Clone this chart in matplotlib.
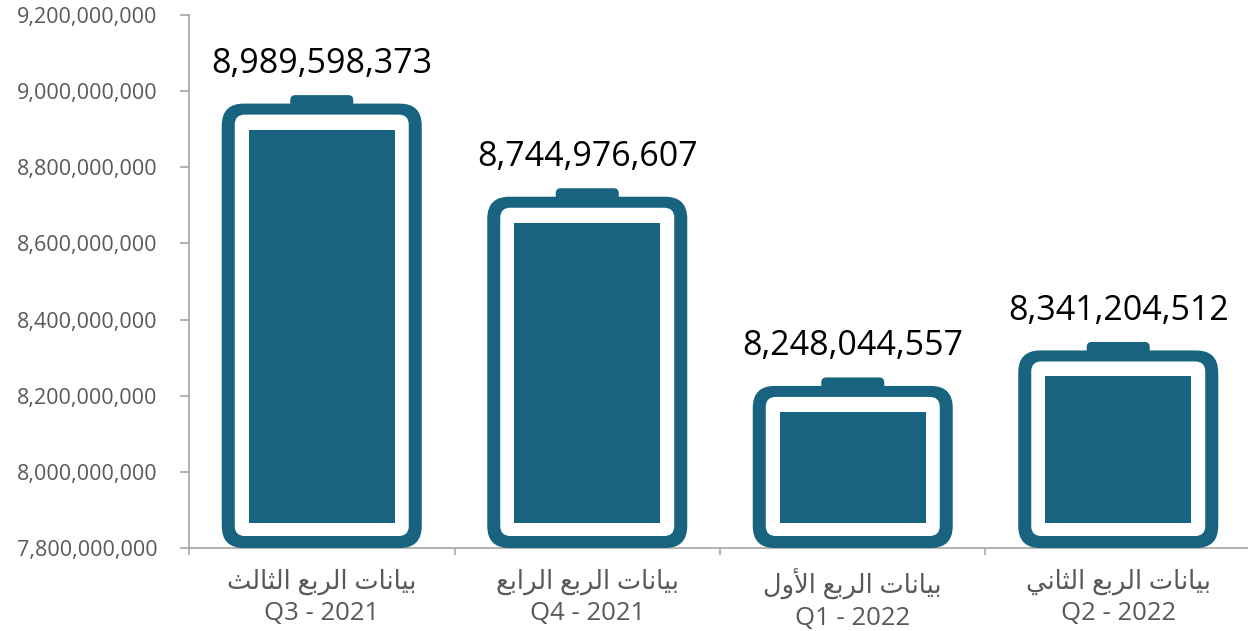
import matplotlib.pyplot as plt
from matplotlib.patches import FancyBboxPatch, Rectangle

# ------------------------------------------
# Datos
# ------------------------------------------
quarters_ar = ['بيانات الربع الثالث', 'بيانات الربع الرابع',
               'بيانات الربع الأول', 'بيانات الربع الثاني']
quarters_en = ['Q3 - 2021', 'Q4 - 2021', 'Q1 - 2022', 'Q2 - 2022']
values = [8989598373, 8744976607, 8248044557, 8341204512]
y_ticks = [7800000000, 8000000000, 8200000000, 8400000000,
           8600000000, 8800000000, 9000000000, 9200000000]

TEAL = '#176380'
GRID_GREY = '#A6A6A6'
TEXT_GREY = '#595959'
FONTS = ['Open Sans', 'DejaVu Sans']

# Arabic shaping by hand (presentation forms, visual order)
FORMS = {
    'ا': ('\uFE8D', '\uFE8E', None, None),
    'أ': ('\uFE83', '\uFE84', None, None),
    'ب': ('\uFE8F', '\uFE90', '\uFE91', '\uFE92'),
    'ت': ('\uFE95', '\uFE96', '\uFE97', '\uFE98'),
    'ث': ('\uFE99', '\uFE9A', '\uFE9B', '\uFE9C'),
    'ر': ('\uFEAD', '\uFEAE', None, None),
    'ع': ('\uFEC9', '\uFECA', '\uFECB', '\uFECC'),
    'ل': ('\uFEDD', '\uFEDE', '\uFEDF', '\uFEE0'),
    'ن': ('\uFEE5', '\uFEE6', '\uFEE7', '\uFEE8'),
    'و': ('\uFEED', '\uFEEE', None, None),
    'ي': ('\uFEF1', '\uFEF2', '\uFEF3', '\uFEF4'),
    'لا': ('\uFEFB', '\uFEFC', None, None),
    'لأ': ('\uFEF7', '\uFEF8', None, None),
}


def shape_word(word):
    tokens = []
    k = 0
    while k < len(word):
        if word[k] == 'ل' and k + 1 < len(word) and word[k + 1] in 'اأ':
            tokens.append(word[k:k + 2])
            k += 2
        else:
            tokens.append(word[k])
            k += 1
    out = ''
    for k, t in enumerate(tokens):
        iso, fin, ini, med = FORMS[t]
        prev = k > 0 and FORMS[tokens[k - 1]][2] is not None
        nxt = k < len(tokens) - 1 and ini is not None
        if prev and nxt:
            out += med
        elif prev:
            out += fin
        elif nxt:
            out += ini
        else:
            out += iso
    return out


def shape_ar(text):
    return ' '.join(shape_word(w) for w in text.split(' '))[::-1]


# ------------------------------------------
# Figura
# ------------------------------------------
fig = plt.figure(figsize=(12.48, 6.31), dpi=100)
ax = fig.add_axes([189 / 1248, 83 / 631, 1062 / 1248, 533 / 631])
ax.set_xlim(-0.5, len(values) - 0.5)
ax.set_ylim(y_ticks[0], y_ticks[-1])

bbox = ax.get_window_extent()
xpp = (len(values)) / bbox.width
ypp = (y_ticks[-1] - y_ticks[0]) / bbox.height
aspect = ypp / xpp


def rbox(x0, y0, w, h, r, color, z):
    p = FancyBboxPatch((x0, y0), w, h,
                       boxstyle=f'round,pad=0,rounding_size={r * xpp}',
                       mutation_aspect=aspect, facecolor=color,
                       edgecolor='none', linewidth=0, zorder=z)
    ax.add_patch(p)


base = y_ticks[0]
for i, v in enumerate(values):
    body_top = v - 8.5 * ypp
    # cap
    rbox(i - 31.5 * xpp, body_top - 6 * ypp, 63 * xpp, 6 * ypp + 8.5 * ypp,
         5, TEAL, 2)
    # outer body
    rbox(i - 100 * xpp, base, 200 * xpp, body_top - base, 22, TEAL, 3)
    # white gap
    rbox(i - 87 * xpp, base + 12 * ypp, 174 * xpp,
         body_top - base - 23 * ypp, 10, 'white', 4)
    # charge level
    ax.add_patch(Rectangle((i - 73 * xpp, base + 25 * ypp), 146 * xpp,
                           body_top - base - 51 * ypp, facecolor=TEAL,
                           edgecolor='none', linewidth=0, zorder=5))
    ax.annotate(f'{v:,}', (i, v), xytext=(0, 22), textcoords='offset pixels',
                ha='center', va='baseline', fontsize=24.5, color='black',
                family=FONTS, zorder=6)

# ejes
ax.spines['top'].set_visible(False)
ax.spines['right'].set_visible(False)
ax.spines['left'].set_color(GRID_GREY)
ax.spines['bottom'].set_color(GRID_GREY)
ax.spines['left'].set_linewidth(1.2)
ax.spines['bottom'].set_linewidth(1.2)

ax.set_yticks(y_ticks)
ax.set_yticklabels([f'{t:,}' for t in y_ticks], family=FONTS, fontsize=15.5,
                   color=TEXT_GREY)
ax.tick_params(axis='y', length=6.5, width=1.2, color=GRID_GREY, pad=16)

ax.set_xticks(range(len(values)))
ax.set_xticklabels([shape_ar(a) + '\n' + e for a, e in zip(quarters_ar, quarters_en)],
                   family=FONTS, fontsize=18.5, color=TEXT_GREY, linespacing=1.3)
ax.tick_params(axis='x', which='major', length=0, pad=15)
ax.set_xticks([i - 0.5 for i in range(len(values) + 1)], minor=True)
ax.tick_params(axis='x', which='minor', length=5, width=1.2, color=GRID_GREY)

fig.savefig('out.png', dpi=100)
